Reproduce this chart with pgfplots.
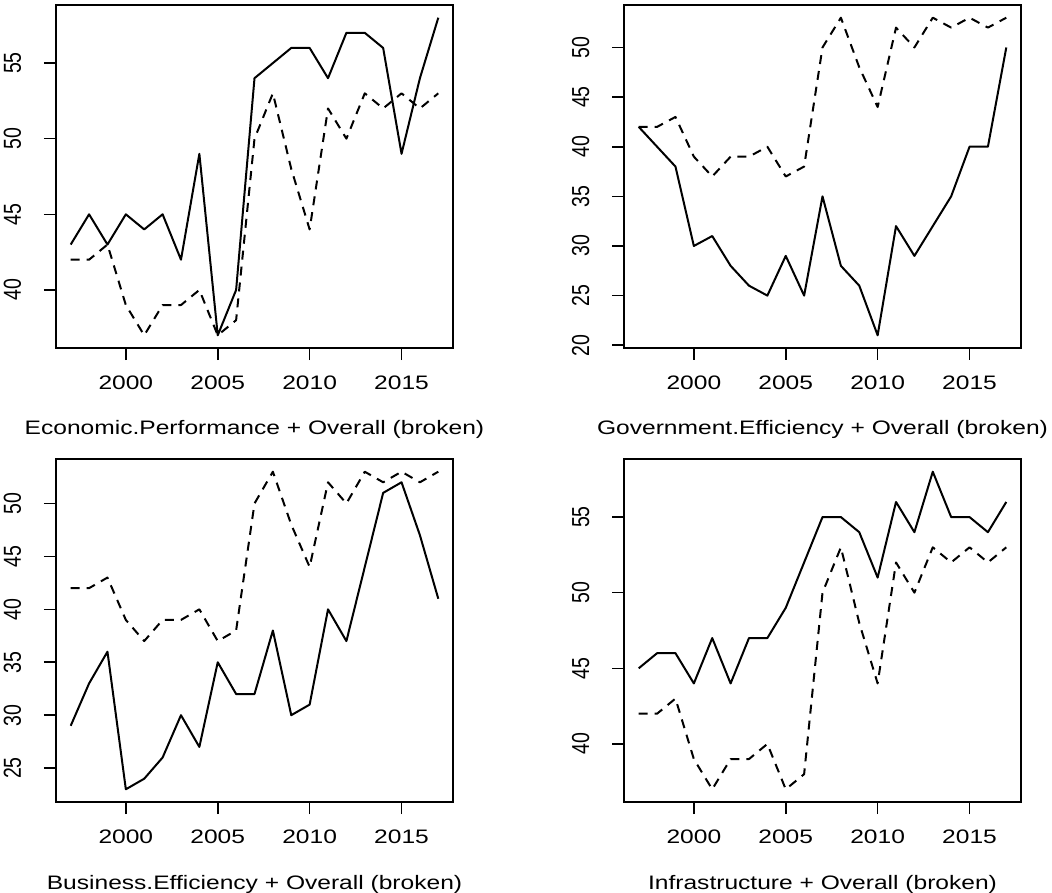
\documentclass[border=0pt]{standalone}
\usepackage{fontspec}
\setmainfont{Liberation Sans}[FakeStretch=1.26]
\newfontfamily\yfont{Liberation Sans}
\usepackage{graphicx}
\usepackage{pgfplots}
\pgfplotsset{compat=1.18}

\pgfplotstableread{
year overall econ gov bus infra
1997 42 43 42 29 45
1998 42 45 40 33 46
1999 43 43 38 36 46
2000 39 45 30 23 44
2001 37 44 31 24 47
2002 39 45 28 26 44
2003 39 42 26 30 47
2004 40 49 25 27 47
2005 37 37 29 35 49
2006 38 40 25 32 52
2007 50 54 35 32 55
2008 53 55 28 38 55
2009 48 56 26 30 54
2010 44 56 21 31 51
2011 52 54 32 40 56
2012 50 57 29 37 54
2013 53 57 32 44 58
2014 52 56 35 51 55
2015 53 49 40 52 55
2016 52 54 40 47 54
2017 53 58 50 41 56
}\data

\pgfplotsset{
  rpanel/.style={
    scale only axis, width=397pt, height=343pt, anchor=south west,
    xmin=1996.2, xmax=2017.8, xtick={2000,2005,2010,2015},
    enlargelimits=false,
    axis line style={line width=1.6pt, black},
    every tick/.style={line width=1.6pt, black},
    major tick length=12pt, tick align=outside,
    xtick pos=bottom, ytick pos=left,
    /pgf/number format/assume math mode=true,
    /pgf/number format/1000 sep={},
    xticklabel style={font=\fontsize{19.5}{23}\selectfont, anchor=north, inner sep=0pt, yshift=-16pt},
    yticklabel={\scalebox{1}[1.26]{\pgfmathprintnumber{\tick}}},
    yticklabel style={font=\fontsize{19.5}{23}\yfont, xshift=-23pt, rotate=90, anchor=base, inner sep=0pt},
    xlabel style={at={(axis description cs:0.5,0)}, anchor=base, yshift=-87pt, inner sep=0pt, font=\fontsize{19.5}{23}\selectfont},
  },
  solidl/.style={black, line width=2pt, line join=round, no markers},
  dashl/.style={black, line width=2pt, line join=round, dash pattern=on 9pt off 7pt, no markers},
}

\begin{document}
\begin{tikzpicture}
\path[use as bounding box] (0,0) rectangle (1052pt,892pt);

\begin{axis}[rpanel, at={(56pt,544pt)}, ymin=36.16, ymax=58.84, ytick={40,45,50,55},
  xlabel={Economic.Performance + Overall (broken)}]
\addplot[solidl] table[x=year, y=econ] {\data};
\addplot[dashl] table[x=year, y=overall] {\data};
\end{axis}

\begin{axis}[rpanel, at={(624pt,544pt)}, ymin=19.72, ymax=54.28, ytick={20,25,30,35,40,45,50},
  xlabel={Government.Efficiency + Overall (broken)}]
\addplot[solidl] table[x=year, y=gov] {\data};
\addplot[dashl] table[x=year, y=overall] {\data};
\end{axis}

\begin{axis}[rpanel, at={(56pt,90pt)}, ymin=21.8, ymax=54.2, ytick={25,30,35,40,45,50},
  xlabel={Business.Efficiency + Overall (broken)}]
\addplot[solidl] table[x=year, y=bus] {\data};
\addplot[dashl] table[x=year, y=overall] {\data};
\end{axis}

\begin{axis}[rpanel, at={(624pt,90pt)}, ymin=36.16, ymax=58.84, ytick={40,45,50,55},
  xlabel={Infrastructure + Overall (broken)}]
\addplot[solidl] table[x=year, y=infra] {\data};
\addplot[dashl] table[x=year, y=overall] {\data};
\end{axis}
\end{tikzpicture}
\end{document}
